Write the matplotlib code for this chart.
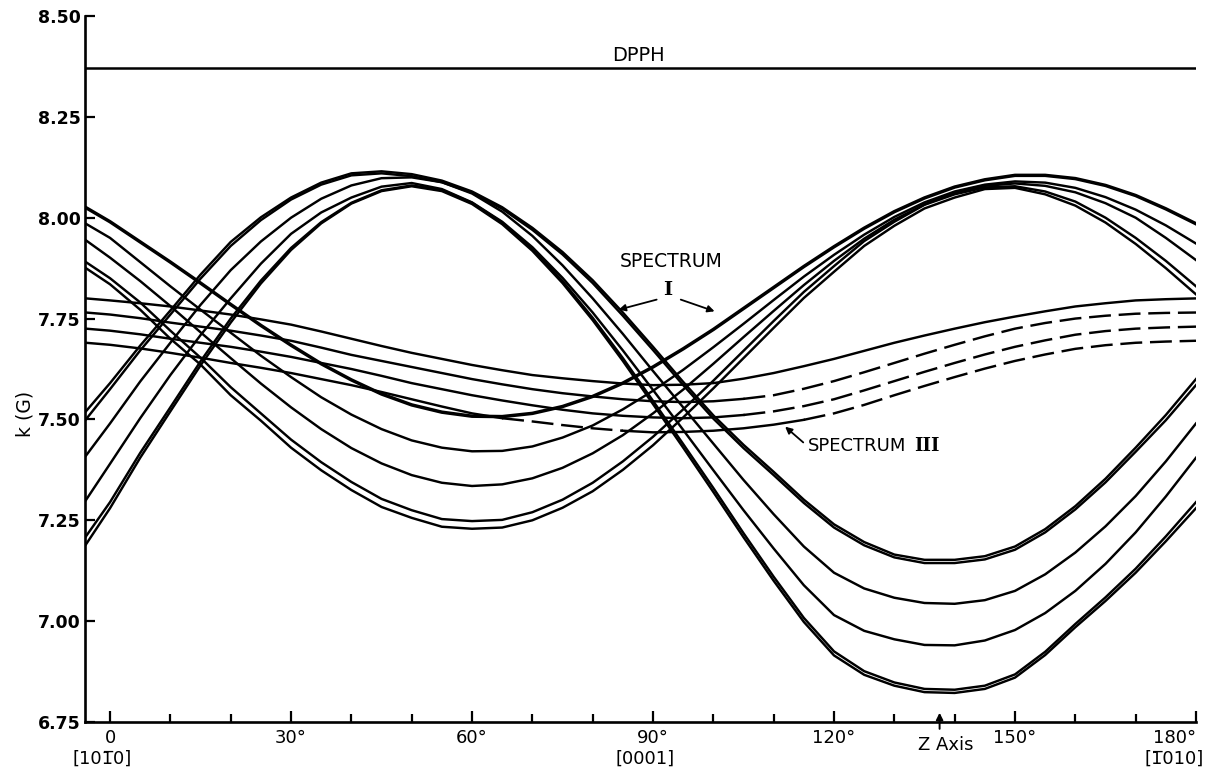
import numpy as np
import matplotlib.pyplot as plt

angles = [-4] + list(range(0, 181, 5))

# Spectrum I, set A (falling from the left, minimum near 62 deg)
spec1_a1 = [8.025, 7.99, 7.94, 7.89, 7.838, 7.785, 7.733, 7.684, 7.638, 7.598, 7.563, 7.536, 7.518,
            7.508, 7.507, 7.515, 7.532, 7.557, 7.590, 7.63, 7.675, 7.723, 7.775, 7.827, 7.879,
            7.928, 7.974, 8.015, 8.049, 8.076, 8.094, 8.105, 8.105, 8.097, 8.080, 8.055, 8.022, 7.985]
spec1_a2 = [7.985, 7.95, 7.89, 7.83, 7.772, 7.715, 7.658, 7.605, 7.555, 7.512, 7.476, 7.448, 7.430,
            7.421, 7.422, 7.433, 7.455, 7.485, 7.525, 7.571, 7.623, 7.679, 7.737, 7.796, 7.854,
            7.908, 7.958, 8.002, 8.038, 8.065, 8.082, 8.09, 8.087, 8.074, 8.051, 8.02, 7.981, 7.936]
spec1_a3 = [7.944, 7.901, 7.843, 7.781, 7.716, 7.652, 7.589, 7.53, 7.476, 7.429, 7.391, 7.362, 7.343,
            7.335, 7.339, 7.354, 7.380, 7.416, 7.461, 7.515, 7.574, 7.638, 7.704, 7.769, 7.833,
            7.893, 7.948, 7.995, 8.033, 8.062, 8.079, 8.085, 8.079, 8.063, 8.036, 8.0, 7.95, 7.895]
spec1_a4 = [7.89, 7.85, 7.79, 7.72, 7.653, 7.58, 7.515, 7.45, 7.394, 7.345, 7.303, 7.275, 7.253,
            7.248, 7.251, 7.27, 7.301, 7.343, 7.396, 7.457, 7.525, 7.596, 7.67, 7.744, 7.816,
            7.88, 7.942, 7.99, 8.032, 8.058, 8.075, 8.078, 8.065, 8.04, 8.0, 7.95, 7.893, 7.83]
spec1_a5 = [7.875, 7.835, 7.772, 7.70, 7.636, 7.56, 7.497, 7.43, 7.374, 7.325, 7.283, 7.256, 7.234,
            7.229, 7.232, 7.25, 7.281, 7.322, 7.375, 7.436, 7.505, 7.577, 7.652, 7.727, 7.801,
            7.866, 7.930, 7.98, 8.023, 8.05, 8.071, 8.074, 8.058, 8.03, 7.988, 7.935, 7.875, 7.81]

# Spectrum I, set B (rising from the left, minimum near 138 deg)
spec1_b1 = [7.19, 7.28, 7.405, 7.52, 7.634, 7.74, 7.837, 7.92, 7.986, 8.035, 8.066, 8.078, 8.066,
            8.034, 7.984, 7.918, 7.838, 7.746, 7.645, 7.538, 7.43, 7.32, 7.208, 7.10, 6.998,
            6.915, 6.867, 6.84, 6.824, 6.822, 6.832, 6.86, 6.916, 6.985, 7.05, 7.12, 7.198, 7.28]
spec1_b2 = [7.21, 7.295, 7.417, 7.53, 7.644, 7.75, 7.844, 7.925, 7.989, 8.037, 8.068, 8.08, 8.069,
            8.037, 7.988, 7.922, 7.843, 7.752, 7.652, 7.546, 7.439, 7.33, 7.218, 7.11, 7.008,
            6.925, 6.876, 6.848, 6.832, 6.83, 6.84, 6.868, 6.924, 6.993, 7.059, 7.13, 7.21, 7.295]
spec1_b3 = [7.30, 7.39, 7.503, 7.61, 7.709, 7.80, 7.886, 7.96, 8.013, 8.05, 8.077, 8.086, 8.071,
            8.038, 7.99, 7.927, 7.851, 7.765, 7.671, 7.573, 7.474, 7.374, 7.275, 7.18, 7.089,
            7.015, 6.976, 6.955, 6.941, 6.94, 6.952, 6.978, 7.02, 7.075, 7.142, 7.22, 7.309, 7.405]
spec1_b4 = [7.41, 7.49, 7.594, 7.69, 7.784, 7.87, 7.941, 8.00, 8.047, 8.08, 8.098, 8.10, 8.088,
            8.06, 8.015, 7.955, 7.882, 7.80, 7.712, 7.62, 7.53, 7.44, 7.35, 7.265, 7.185,
            7.12, 7.081, 7.058, 7.045, 7.043, 7.052, 7.075, 7.116, 7.17, 7.235, 7.31, 7.396, 7.49]
spec1_b5 = [7.50, 7.575, 7.671, 7.76, 7.849, 7.93, 7.994, 8.045, 8.082, 8.105, 8.11, 8.103, 8.088,
            8.062, 8.022, 7.97, 7.909, 7.838, 7.757, 7.672, 7.585, 7.502, 7.429, 7.362, 7.293,
            7.232, 7.188, 7.158, 7.144, 7.144, 7.153, 7.177, 7.22, 7.277, 7.344, 7.42, 7.498, 7.585]
spec1_b6 = [7.52, 7.59, 7.683, 7.77, 7.859, 7.94, 8.001, 8.05, 8.087, 8.11, 8.115, 8.108, 8.092,
            8.065, 8.026, 7.975, 7.915, 7.845, 7.765, 7.68, 7.593, 7.51, 7.437, 7.37, 7.301,
            7.24, 7.196, 7.165, 7.152, 7.152, 7.161, 7.185, 7.228, 7.285, 7.353, 7.43, 7.511, 7.60]

# Spectrum III
spec3_1 = [7.80, 7.795, 7.788, 7.78, 7.77, 7.76, 7.748, 7.735, 7.718, 7.70, 7.682, 7.665, 7.65,
           7.635, 7.622, 7.61, 7.602, 7.595, 7.589, 7.585, 7.586, 7.59, 7.601, 7.615, 7.632,
           7.65, 7.67, 7.69, 7.708, 7.725, 7.741, 7.755, 7.768, 7.78, 7.788, 7.795, 7.798, 7.80]
spec3_2 = [7.765, 7.76, 7.751, 7.74, 7.73, 7.72, 7.708, 7.695, 7.678, 7.66, 7.645, 7.63, 7.615,
           7.60, 7.587, 7.575, 7.565, 7.557, 7.55, 7.545, 7.543, 7.545, 7.551, 7.56, 7.576,
           7.595, 7.617, 7.64, 7.663, 7.685, 7.706, 7.725, 7.739, 7.75, 7.757, 7.762, 7.764, 7.765]
spec3_3 = [7.725, 7.72, 7.711, 7.70, 7.69, 7.68, 7.668, 7.655, 7.64, 7.625, 7.608, 7.59, 7.575,
           7.56, 7.547, 7.535, 7.524, 7.515, 7.509, 7.505, 7.503, 7.505, 7.511, 7.52, 7.533,
           7.55, 7.572, 7.595, 7.618, 7.64, 7.661, 7.68, 7.696, 7.71, 7.719, 7.725, 7.728, 7.73]
spec3_4 = [7.69, 7.685, 7.676, 7.665, 7.653, 7.64, 7.628, 7.615, 7.60, 7.585, 7.568, 7.55, 7.532,
           7.515, 7.503, 7.495, 7.486, 7.478, 7.472, 7.468, 7.469, 7.472, 7.478, 7.487, 7.499,
           7.515, 7.536, 7.56, 7.583, 7.605, 7.626, 7.645, 7.661, 7.675, 7.684, 7.69, 7.693, 7.695]

dpph = 8.37
y_ticks = [6.75, 7.00, 7.25, 7.50, 7.75, 8.00, 8.25, 8.50]
x_major = [0, 30, 60, 90, 120, 150, 180]
x_major_labels = ["0", "30°", "60°", "90°", "120°", "150°", "180°"]
x_minor = [10, 20, 40, 50, 70, 80, 100, 110, 130, 140, 160, 170]
z_axis = 137.5

K = "black"
LW = 1.75
ang = np.array(angles)

fig = plt.figure(figsize=(12.07, 7.69), dpi=100)
ax = fig.add_axes([85 / 1207, 47 / 769, 1111 / 1207, 706 / 769])

# spectrum I
for vals in [spec1_a2, spec1_a3, spec1_a4, spec1_a5,
             spec1_b1, spec1_b2, spec1_b3, spec1_b4, spec1_b5, spec1_b6]:
    ax.plot(ang, vals, color=K, lw=LW)
ax.plot(ang, spec1_a1, color=K, lw=2.5)

# spectrum III: solid / dashed pieces
def piece(vals, lo, hi, dashed):
    v = np.array(vals)
    m = (ang >= lo) & (ang <= hi)
    if dashed:
        ax.plot(ang[m], v[m], color=K, lw=LW, dashes=(9, 3.2))
    else:
        ax.plot(ang[m], v[m], color=K, lw=LW)

piece(spec3_1, -4, 180, False)
piece(spec3_2, -4, 105, False)
piece(spec3_2, 105, 180, True)
piece(spec3_3, -4, 105, False)
piece(spec3_3, 105, 180, True)
piece(spec3_4, -4, 65, False)
piece(spec3_4, 65, 85, True)
piece(spec3_4, 85, 115, False)
piece(spec3_4, 115, 180, True)

ax.axhline(dpph, color=K, lw=1.8)
ax.text(87.6, 8.403, "DPPH", ha="center", va="center", fontsize=14)

# labels for spectra
ax.text(93, 7.891, "SPECTRUM", ha="center", va="center", fontsize=13.5)
ax.text(92.4, 7.822, "I", ha="center", va="center", fontsize=14,
        family="DejaVu Serif", fontweight="bold")
arw = dict(arrowstyle="-|>", color=K, lw=1.3, mutation_scale=10,
           shrinkA=0, shrinkB=0)
ax.annotate("", xy=(84.3, 7.772), xytext=(90.6, 7.797), arrowprops=arw)
ax.annotate("", xy=(100.2, 7.768), xytext=(94.6, 7.797), arrowprops=arw)

ax.text(115.6, 7.434, "SPECTRUM", ha="left", va="center", fontsize=13)
ax.text(133.2, 7.434, "III", ha="left", va="center", fontsize=13,
        family="DejaVu Serif", fontweight="bold")
ax.annotate("", xy=(111.9, 7.482), xytext=(114.9, 7.443), arrowprops=arw)

# axes
ax.set_xlim(-4.15, 180)
ax.set_ylim(6.75, 8.50)
for s in ["top", "right"]:
    ax.spines[s].set_visible(False)
for s in ["left", "bottom"]:
    ax.spines[s].set_linewidth(1.9)

ax.set_xticks(x_major)
ax.set_xticklabels(x_major_labels)
ax.set_xticks(x_minor, minor=True)
ax.tick_params(axis="x", which="major", direction="in", length=8, width=1.6,
               pad=5, labelsize=13)
ax.tick_params(axis="x", which="minor", direction="in", length=6, width=1.6)
ax.xaxis.get_ticklabels()[-1].set_horizontalalignment("right")

ax.set_yticks(y_ticks)
ax.set_yticklabels([f"{v:.2f}" for v in y_ticks], fontweight="bold")
ax.tick_params(axis="y", direction="in", length=7, width=1.6, pad=3,
               labelsize=12.5)

ax.annotate("", xy=(z_axis, 6.773), xytext=(z_axis, 6.733),
            arrowprops=dict(arrowstyle="-|>", color=K, lw=1.4,
                            mutation_scale=10, shrinkA=0, shrinkB=0),
            annotation_clip=False)
ax.text(138.5, 6.693, "Z Axis", ha="center", va="center", fontsize=13,
        clip_on=False)

ax.text(-1.3, 6.658, "[101\u03050]", ha="center", va="center",
        fontsize=13, clip_on=False)
ax.text(88.7, 6.658, "[0001]", ha="center", va="center", fontsize=13,
        clip_on=False)
ax.text(176.3, 6.658, "[1\u0305010]", ha="center", va="center",
        fontsize=13, clip_on=False)

fig.text(25 / 1207, 1 - 414 / 769, "k (G)", rotation=90, ha="center",
         va="center", fontsize=13.5)

fig.savefig("out.png", dpi=100)
